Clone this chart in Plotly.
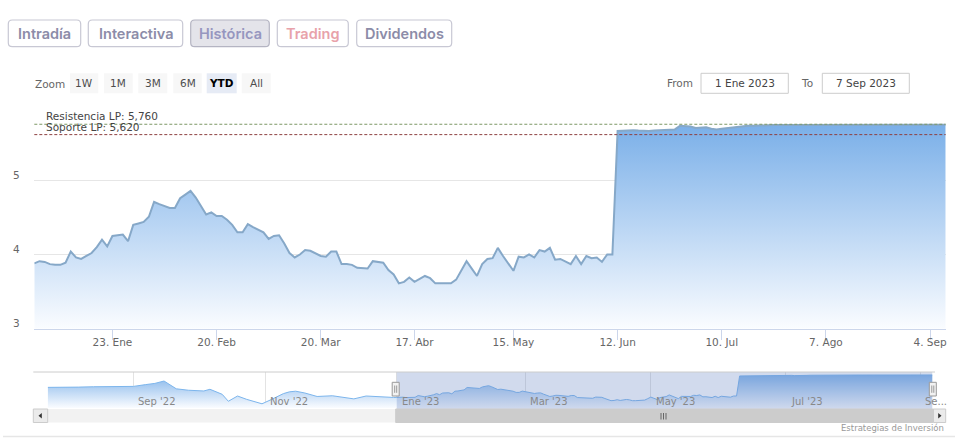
import plotly.graph_objects as go
import pandas as pd

W, H = 959, 442

# ---------------- data ----------------
HOLIDAYS = ["2022-12-26", "2023-04-07", "2023-04-10", "2023-05-01"]

# daily closes, trading days 2 Jan 2023 - 7 Sep 2023
close_2023 = [
    3.88, 3.91, 3.90, 3.87, 3.86,
    3.86, 3.89, 4.04, 3.96, 3.94,
    3.98, 4.02, 4.10, 4.20, 4.11,
    4.25, 4.26, 4.27, 4.18, 4.40,
    4.42, 4.44, 4.51, 4.71, 4.68,
    4.65, 4.63, 4.63, 4.76, 4.81,
    4.86, 4.77, 4.66, 4.54, 4.57,
    4.52, 4.52, 4.47, 4.40, 4.30,
    4.30, 4.41, 4.37, 4.33, 4.30,
    4.21, 4.25, 4.26, 4.15, 4.02,
    3.96, 4.00, 4.06, 4.05, 4.02,
    3.98, 3.97, 4.04, 4.04, 3.87,
    3.87, 3.86, 3.82, 3.82, 3.81,
    3.91, 3.90, 3.89, 3.79,
    3.73, 3.61, 3.63, 3.69,
    3.63, 3.67, 3.71, 3.68, 3.61,
    3.61, 3.61, 3.61, 3.66, 3.78,
    3.91, 3.81, 3.71, 3.87,
    3.94, 3.95, 4.09, 3.98, 3.88,
    3.78, 3.97, 3.96, 4.00, 3.96,
    4.06, 4.04, 4.09, 3.93, 3.94,
    3.91, 3.87, 3.98, 3.87, 3.98,
    3.95, 3.96, 3.90, 4.00, 4.00,
    5.67, 5.675, 5.68, 5.68, 5.675,
    5.67, 5.67, 5.675, 5.68, 5.68,
    5.68, 5.69, 5.74, 5.74, 5.73,
    5.71, 5.715, 5.72, 5.70, 5.69,
    5.70, 5.71, 5.72, 5.73, 5.735,
    5.74, 5.74, 5.745, 5.75, 5.755,
    5.75, 5.75, 5.745, 5.75, 5.75,
    5.75, 5.75, 5.75, 5.745, 5.75,
    5.75, 5.75, 5.75, 5.75, 5.75,
    5.745, 5.75, 5.75, 5.75, 5.75,
    5.75, 5.75, 5.75, 5.745, 5.75,
    5.75, 5.755, 5.755, 5.755, 5.75,
    5.755, 5.755, 5.755, 5.755,
]

# navigator history (2022 part, read from the navigator strip)
nav_dates_2022 = [
    "2022-07-25", "2022-08-01", "2022-08-08", "2022-08-15", "2022-08-22",
    "2022-08-29", "2022-09-01", "2022-09-07", "2022-09-12", "2022-09-15",
    "2022-09-21", "2022-09-27", "2022-10-04", "2022-10-06", "2022-10-12",
    "2022-10-14", "2022-10-19", "2022-10-24", "2022-10-31", "2022-11-03",
    "2022-11-09", "2022-11-11", "2022-11-15", "2022-11-18", "2022-11-24",
    "2022-12-01", "2022-12-07", "2022-12-12", "2022-12-16", "2022-12-22",
    "2022-12-30",
]
nav_values_2022 = [
    4.72, 4.76, 4.74, 4.77, 4.76,
    4.79, 4.80, 4.95, 5.05, 5.25,
    4.60, 4.48, 4.42, 4.56, 4.14,
    3.56, 4.00, 3.72, 3.35, 3.70,
    4.20, 4.35, 4.40, 4.25, 3.96,
    4.02, 3.90, 3.76, 4.00, 3.92,
    3.88,
]

resistencia = 5.760
soporte = 5.620
resistencia_label = "Resistencia LP: 5,760"
soporte_label = "Soporte LP: 5,620"

x_tick_dates = ["2023-01-23", "2023-02-20", "2023-03-20", "2023-04-17", "2023-05-15",
                "2023-06-12", "2023-07-10", "2023-08-07", "2023-09-04"]
x_tick_labels = ["23. Ene", "20. Feb", "20. Mar", "17. Abr", "15. May",
                 "12. Jun", "10. Jul", "7. Ago", "4. Sep"]
y_ticks = [3, 4, 5]
y_grid = [4, 5, 6]

nav_tick_dates = ["2022-09-01", "2022-11-01", "2023-01-02", "2023-03-01",
                  "2023-05-02", "2023-07-03", "2023-09-01"]
nav_tick_labels = ["Sep '22", "Nov '22", "Ene '23", "Mar '23", "May '23", "Jul '23", "Se..."]

range_from = "2023-01-02"
range_to = "2023-09-07"

top_buttons = ["Intradía", "Interactiva", "Histórica", "Trading", "Dividendos"]
zoom_buttons = ["1W", "1M", "3M", "6M", "YTD", "All"]

# ---------------- helpers ----------------
def fx(x):
    return x / W


def fy(y):
    return 1 - y / H


shapes = []
annotations = []


def rect(x0, y0, x1, y1, fill=None, line=None, lw=1, layer="above"):
    shapes.append(dict(type="rect", xref="paper", yref="paper",
                       x0=fx(x0), x1=fx(x1), y0=fy(y1), y1=fy(y0),
                       fillcolor=fill or "rgba(0,0,0,0)",
                       line=dict(color=line or "rgba(0,0,0,0)", width=lw if line else 0),
                       layer=layer))


def rrect(x0, y0, x1, y1, r, fill, line, lw=1.2):
    p = (f"M {fx(x0+r)},{fy(y0)} L {fx(x1-r)},{fy(y0)} Q {fx(x1)},{fy(y0)} {fx(x1)},{fy(y0+r)} "
         f"L {fx(x1)},{fy(y1-r)} Q {fx(x1)},{fy(y1)} {fx(x1-r)},{fy(y1)} "
         f"L {fx(x0+r)},{fy(y1)} Q {fx(x0)},{fy(y1)} {fx(x0)},{fy(y1-r)} "
         f"L {fx(x0)},{fy(y0+r)} Q {fx(x0)},{fy(y0)} {fx(x0+r)},{fy(y0)} Z")
    shapes.append(dict(type="path", xref="paper", yref="paper", path=p,
                       fillcolor=fill, line=dict(color=line, width=lw)))


def hline(x0, x1, y, color, w=1):
    shapes.append(dict(type="line", xref="paper", yref="paper",
                       x0=fx(x0), x1=fx(x1), y0=fy(y), y1=fy(y),
                       line=dict(color=color, width=w)))


def vline(x, y0, y1, color, w=1):
    shapes.append(dict(type="line", xref="paper", yref="paper",
                       x0=fx(x), x1=fx(x), y0=fy(y0), y1=fy(y1),
                       line=dict(color=color, width=w)))


def text(x, y, s, size=11, color="#666", anchor="center", family="DejaVu Sans", weight=None):
    f = dict(size=size, color=color, family=family)
    if weight:
        f["weight"] = weight
    annotations.append(dict(xref="paper", yref="paper", x=fx(x), y=fy(y), text=s,
                            showarrow=False, xanchor=anchor, yanchor="middle", font=f))


# ---------------- traces ----------------
dates_2023 = pd.bdate_range(range_from, range_to, freq="C", holidays=HOLIDAYS)
nav_x = list(pd.to_datetime(nav_dates_2022)) + list(dates_2023)
nav_y = nav_values_2022 + close_2023

fig = go.Figure()
fig.add_trace(go.Scatter(
    x=dates_2023, y=close_2023, mode="lines", fill="tozeroy",
    line=dict(color="#86a8c8", width=2),
    fillgradient=dict(type="vertical", start=3, stop=5.8,
                      colorscale=[[0, "rgba(250,252,255,1)"], [1, "rgba(120,174,232,1)"]]),
    xaxis="x", yaxis="y", hoverinfo="skip"))

fig.add_trace(go.Scatter(
    x=nav_x, y=nav_y, mode="lines", fill="tozeroy",
    line=dict(color="#7cb5ec", width=1),
    fillgradient=dict(type="vertical", start=3, stop=6,
                      colorscale=[[0, "rgba(250,252,255,1)"], [1, "rgba(120,174,232,1)"]]),
    xaxis="x2", yaxis="y2", hoverinfo="skip"))

# support / resistance lines
for val, col in [(resistencia, "#7d9866"), (soporte, "#8e4040")]:
    shapes.append(dict(type="line", xref="x domain", yref="y", x0=0, x1=1, y0=val, y1=val,
                       line=dict(color=col, width=1, dash="3px,2px"), layer="above"))
annotations.append(dict(xref="paper", yref="y", x=fx(43.5), y=resistencia, yshift=8,
                        text=resistencia_label, showarrow=False, xanchor="left",
                        yanchor="middle", font=dict(size=10.5, color="#444", family="DejaVu Sans")))
annotations.append(dict(xref="paper", yref="y", x=fx(43.5), y=soporte, yshift=8,
                        text=soporte_label, showarrow=False, xanchor="left",
                        yanchor="middle", font=dict(size=10.5, color="#444", family="DejaVu Sans")))

# y labels
for v in y_ticks:
    annotations.append(dict(xref="paper", yref="y", x=fx(16), y=v, yshift=6, text=str(v),
                            showarrow=False, xanchor="center", yanchor="middle",
                            font=dict(size=10.5, color="#666", family="DejaVu Sans")))

# navigator labels
for d, lab in zip(nav_tick_dates, nav_tick_labels):
    annotations.append(dict(xref="x2", yref="paper", x=d, y=fy(401), xshift=3, text=lab,
                            showarrow=False, xanchor="left", yanchor="middle",
                            font=dict(size=10, color="#888", family="DejaVu Sans")))

# navigator mask
shapes.append(dict(type="rect", xref="x2", yref="paper", x0=range_from, x1=range_to,
                   y0=fy(409), y1=fy(372), fillcolor="rgba(102,133,194,0.3)",
                   line=dict(width=0), layer="above"))
hline(33.3, 935, 372, "#cccccc", 1)

# scrollbar
rect(33.3, 409, 945.7, 422.5, fill="#f2f2f2")
rect(395.7, 409, 933.5, 422.5, fill="#cccccc", line="#cccccc")
rect(33.3, 409, 47.7, 422.5, fill="#ebebeb", line="#cccccc")
rect(933.5, 409, 945.7, 422.5, fill="#ebebeb", line="#cccccc")
shapes.append(dict(type="path", xref="paper", yref="paper",
                   path=f"M {fx(38.5)},{fy(415.8)} L {fx(41.8)},{fy(413)} L {fx(41.8)},{fy(418.6)} Z",
                   fillcolor="#333", line=dict(width=0)))
shapes.append(dict(type="path", xref="paper", yref="paper",
                   path=f"M {fx(941.5)},{fy(415.8)} L {fx(938.2)},{fy(413)} L {fx(938.2)},{fy(418.6)} Z",
                   fillcolor="#333", line=dict(width=0)))
for gx in (661, 663.5, 666):
    vline(gx, 413, 419.5, "#666", 1)

# navigator handles
for hx in (395.7, 932.8):
    rect(hx - 3.5, 382.3, hx + 3.5, 396, fill="#f2f2f2", line="#999999")
    vline(hx - 1, 385.5, 392.8, "#999999", 1)
    vline(hx + 1, 385.5, 392.8, "#999999", 1)

# top buttons
btn_boxes = [(8.3, 80.7), (88.3, 182.7), (190.7, 269.3), (277.3, 348.3), (356.7, 451.7)]
btn_colors = ["#8c8ca8", "#8c8ca8", "#9696bf", "#e8a2aa", "#8c8ca8"]
for (x0, x1), lab, col in zip(btn_boxes, top_buttons, btn_colors):
    active = lab == "Histórica"
    rrect(x0, 20, x1, 46.7, 4, "#e4e4ea" if active else "#ffffff",
          "#b4b4c2" if active else "#c8c8d4")
    text((x0 + x1) / 2, 33.8, lab, size=14.5, color=col, family="Inter", weight=600)

# zoom row
text(49.5, 83.5, "Zoom", size=10.5, color="#666")
zb = [(70, 98.3), (104, 132.7), (138.3, 167.3), (173.3, 201.7), (206.7, 236.7), (241.7, 270.7)]
for (x0, x1), lab in zip(zb, zoom_buttons):
    sel = lab == "YTD"
    rect(x0, 73.3, x1, 93.3, fill="#e6ebf5" if sel else "#f7f7f7")
    text((x0 + x1) / 2, 83.3, f"<b>{lab}</b>" if sel else lab, size=10.5,
         color="#000" if sel else "#4d4d4d")

text(680, 83.3, "From", size=10.5, color="#666")
rect(701, 73.3, 788.3, 93.3, fill="#ffffff", line="#cccccc")
text(744.6, 83.3, "1 Ene 2023", size=10.5, color="#444")
text(806.5, 83.3, "To", size=10.5, color="#666")
rect(822.3, 73.3, 909.3, 93.3, fill="#ffffff", line="#cccccc")
text(865.8, 83.3, "7 Sep 2023", size=10.5, color="#444")

# credits + separator
text(946, 428, "Estrategias de Inversión", size=8.5, color="#999", anchor="right")
hline(3, 955, 436.5, "#e6e6e6", 1.5)

# ---------------- layout ----------------
rb = [dict(bounds=["sat", "mon"]), dict(values=HOLIDAYS)]
fig.update_layout(
    width=W, height=H, margin=dict(l=0, r=0, t=0, b=0),
    paper_bgcolor="white", plot_bgcolor="white", showlegend=False,
    font=dict(family="DejaVu Sans", size=11, color="#666"),
    xaxis=dict(domain=[fx(34.3), fx(945.7)], range=[range_from, range_to], rangebreaks=rb,
               tickvals=x_tick_dates, ticktext=x_tick_labels, ticks="outside", ticklen=10,
               tickcolor="#ccd6eb", showline=True, linecolor="#ccd6eb", showgrid=False,
               zeroline=False, tickfont=dict(size=10.5, color="#666"), ticklabelstandoff=-6,
               anchor="y", fixedrange=True),
    yaxis=dict(domain=[fy(328.5), fy(106.5)], range=[3, 6], tickvals=y_grid,
               showticklabels=False, showgrid=True, gridcolor="#e6e6e6", zeroline=False,
               anchor="x", fixedrange=True),
    xaxis2=dict(domain=[fx(47.7), fx(932.5)], range=[nav_dates_2022[0], range_to], rangebreaks=rb,
                tickvals=nav_tick_dates, showticklabels=False, showgrid=True, gridcolor="#e3e3e3",
                zeroline=False, showline=False, ticks="", anchor="y2", fixedrange=True),
    yaxis2=dict(domain=[fy(408), fy(372)], range=[3, 6], showticklabels=False, showgrid=False,
                zeroline=False, anchor="x2", fixedrange=True),
    shapes=shapes, annotations=annotations,
)

fig.write_html("out.html", config={"displayModeBar": False, "staticPlot": True})
